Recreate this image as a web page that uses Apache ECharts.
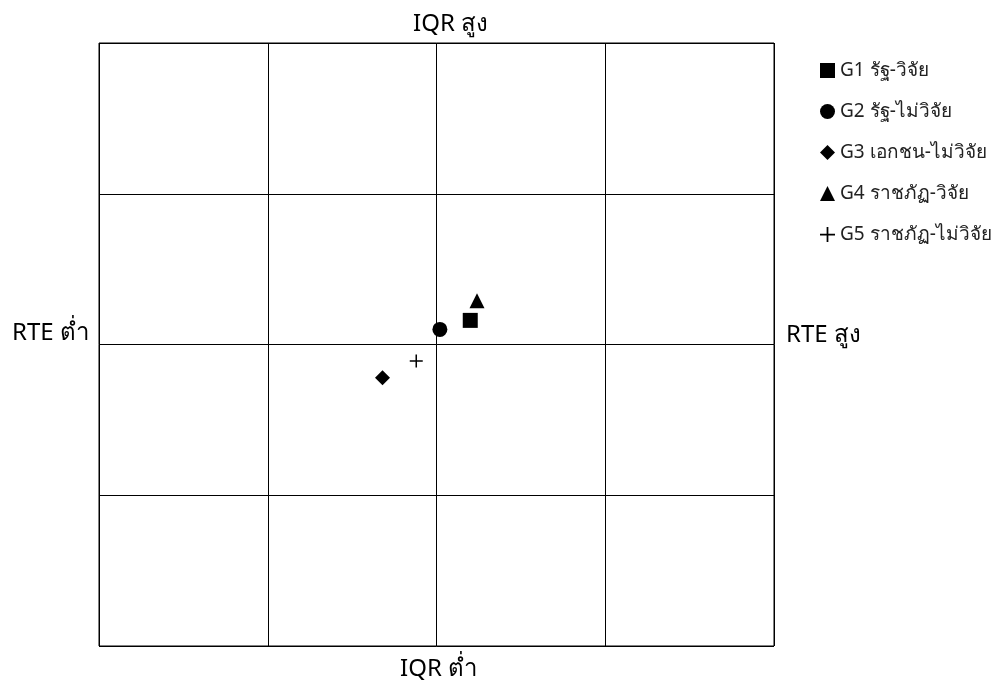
<!DOCTYPE html>
<html>
<head>
<meta charset="utf-8">
<script src="https://cdn.jsdelivr.net/npm/echarts@6/dist/echarts.min.js"></script>
<style>
  html, body { margin: 0; padding: 0; background: #fff; }
  #main { width: 993px; height: 680px; }
</style>
</head>
<body>
<div id="main"></div>
<script>
// กลุ่ม (groups) and their positions: RTE on x, IQR on y
const groupNames = ["G1 รัฐ-วิจัย", "G2 รัฐ-ไม่วิจัย", "G3 เอกชน-ไม่วิจัย", "G4 ราชภัฏ-วิจัย", "G5 ราชภัฏ-ไม่วิจัย"];
const rteValues = [0.20, 0.02, -0.32, 0.24, -0.12];
const iqrValues = [0.16, 0.10, -0.22, 0.29, -0.11];
const groupSymbols = ["rect", "circle", "diamond", "triangle",
  "path://M5.3,0h1.4v5.3h5.3v1.4h-5.3v5.3h-1.4v-5.3h-5.3v-1.4h5.3z"];
const groupSizes = [15, 15, 15, 15, 13];

const axisMin = -2, axisMax = 2, axisStep = 1;

const chart = echarts.init(document.getElementById("main"));
const font = "'Noto Sans', 'DejaVu Sans', sans-serif";

const series = groupNames.map((name, i) => ({
  name: name,
  type: "scatter",
  symbol: groupSymbols[i],
  symbolSize: groupSizes[i],
  itemStyle: { color: "#000", opacity: 1 },
  data: [[rteValues[i], iqrValues[i]]],
  z: 5
}));

// corner labels of the quadrant chart
const axisText = (txt, x, y) => ({
  type: "text",
  style: { text: txt, x: x, y: y, align: "left", verticalAlign: "middle",
    fontSize: 24, fontFamily: font, fill: "#000" }
});

chart.setOption({
  animation: false,
  backgroundColor: "#fff",
  grid: {
    left: 99, top: 43, right: 219, bottom: 34,
    show: true, borderColor: "#000", borderWidth: 1
  },
  xAxis: {
    type: "value", min: axisMin, max: axisMax, interval: axisStep,
    axisLine: { show: false, onZero: false },
    axisTick: { show: false },
    axisLabel: { show: false },
    splitLine: { show: true, lineStyle: { color: "#000", width: 1 } }
  },
  yAxis: {
    type: "value", min: axisMin, max: axisMax, interval: axisStep,
    axisLine: { show: false, onZero: false },
    axisTick: { show: false },
    axisLabel: { show: false },
    splitLine: { show: true, lineStyle: { color: "#000", width: 1 } }
  },
  legend: {
    orient: "vertical",
    left: 815, top: 56,
    itemWidth: 15, itemHeight: 15, itemGap: 22,
    textStyle: { fontSize: 19, color: "#222", fontFamily: font },
    data: groupNames
  },
  graphic: [
    axisText("IQR สูง", 413, 24),
    axisText("IQR ต่ำ", 400, 669),
    axisText("RTE ต่ำ", 12, 333),
    axisText("RTE สูง", 786, 335)
  ],
  series: series
});
</script>
</body>
</html>
